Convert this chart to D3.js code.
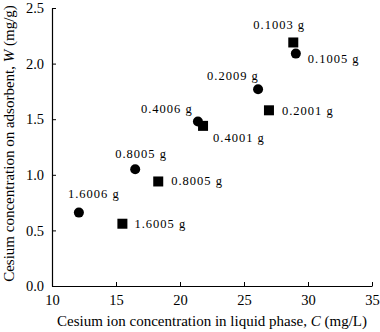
<!DOCTYPE html>
<html><head><meta charset="utf-8">
<script src="https://cdn.jsdelivr.net/npm/d3@7"></script>
<style>body{margin:0;background:#fff}svg{display:block}text{font-family:"Liberation Serif","Times New Roman",serif;fill:#000}</style>
</head><body>
<script>
const circleC = [12.1, 16.5, 21.4, 26.1, 29.05];
const circleW = [0.66, 1.05, 1.48, 1.77, 2.09];
const circleLabels = ["1.6006 g", "0.8005 g", "0.4006 g", "0.2009 g", "0.1005 g"];
const squareC = [15.5, 18.3, 21.8, 26.95, 28.85];
const squareW = [0.56, 0.94, 1.44, 1.58, 2.19];
const squareLabels = ["1.6005 g", "0.8005 g", "0.4001 g", "0.2001 g", "0.1003 g"];
const xTicks = [10, 15, 20, 25, 30, 35];
const yTicks = [0.0, 0.5, 1.0, 1.5, 2.0, 2.5];

const W = 380, H = 332;
const svg = d3.select("body").append("svg").attr("width", W).attr("height", H);
const x = d3.scaleLinear().domain([10, 35]).range([52, 372]);
const y = d3.scaleLinear().domain([0, 2.5]).range([286, 8]);

const xAxis = svg.append("g").attr("transform", "translate(0,286)")
  .call(d3.axisBottom(x).tickValues(xTicks).tickSizeInner(-4).tickSizeOuter(0).tickPadding(9).tickFormat(d3.format("d")));
const yAxis = svg.append("g").attr("transform", "translate(52,0)")
  .call(d3.axisLeft(y).tickValues(yTicks).tickSizeInner(-4).tickSizeOuter(0).tickPadding(8).tickFormat(d3.format(".1f")));
[xAxis, yAxis].forEach(a => {
  a.selectAll("path").attr("stroke", "#000").attr("stroke-width", 1.2);
  a.selectAll("line").attr("stroke", "#000").attr("stroke-width", 1);
  a.selectAll("text").attr("font-size", 14.5).style("font-family", '"Liberation Serif", serif').attr("fill", "#000");
});

// axis titles
svg.append("text").attr("x", 212).attr("y", 326).attr("text-anchor", "middle").attr("font-size", 15)
  .call(t => {
    t.append("tspan").text("Cesium ion concentration in liquid phase, ");
    t.append("tspan").attr("font-style", "italic").text("C");
    t.append("tspan").text(" (mg/L)");
  });
svg.append("text").attr("transform", "translate(13.5,143.5) rotate(-90)").attr("text-anchor", "middle").attr("font-size", 15)
  .call(t => {
    t.append("tspan").text("Cesium concentration on adsorbent, ");
    t.append("tspan").attr("font-style", "italic").text("W");
    t.append("tspan").text(" (mg/g)");
  });

const circles = circleC.map((c, i) => ({c, w: circleW[i], label: circleLabels[i]}));
const squares = squareC.map((c, i) => ({c, w: squareW[i], label: squareLabels[i]}));

svg.selectAll("circle.pt").data(circles).enter().append("circle")
  .attr("cx", d => x(d.c)).attr("cy", d => y(d.w)).attr("r", 5).attr("fill", "#000");
svg.selectAll("rect.pt").data(squares).enter().append("rect")
  .attr("x", d => x(d.c) - 5).attr("y", d => y(d.w) - 5).attr("width", 10).attr("height", 10).attr("fill", "#000");

// label offsets (dx, dy from marker centre to text start/baseline)
const circleOff = [[-11, -15], [-20, -11], [-57, -8], [-51, -9], [12, 9]];
const squareOff = [[12, 4], [13, 4], [10, 16], [13, 5], [-40, -13]];
svg.selectAll("text.cl").data(circles).enter().append("text")
  .attr("x", (d, i) => x(d.c) + circleOff[i][0]).attr("y", (d, i) => y(d.w) + circleOff[i][1])
  .attr("font-size", 12.5).attr("letter-spacing", 1).text(d => d.label);
svg.selectAll("text.sl").data(squares).enter().append("text")
  .attr("x", (d, i) => x(d.c) + squareOff[i][0]).attr("y", (d, i) => y(d.w) + squareOff[i][1])
  .attr("font-size", 12.5).attr("letter-spacing", 1).text(d => d.label);
</script>
</body></html>
